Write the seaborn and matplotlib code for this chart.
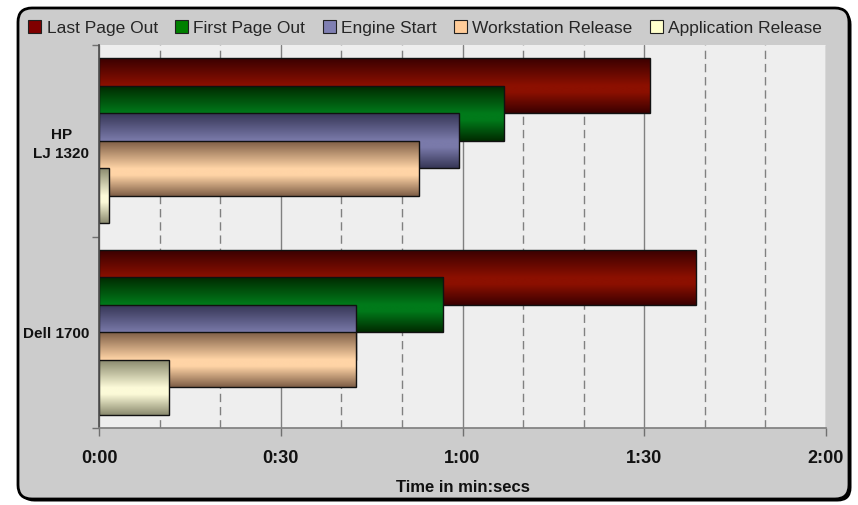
import numpy as np
import pandas as pd
import matplotlib
matplotlib.use("Agg")
import matplotlib.pyplot as plt
import seaborn as sns
from matplotlib.patches import FancyBboxPatch, Patch
from matplotlib.colors import LinearSegmentedColormap
from matplotlib.ticker import FixedLocator, MultipleLocator

# ---- data (seconds) ----
printers = ["HP\nLJ 1320", "Dell 1700"]
series = ["Last Page Out", "First Page Out", "Engine Start",
          "Workstation Release", "Application Release"]
last_page_out = [90.9, 98.6]
first_page_out = [66.8, 56.8]
engine_start = [59.4, 42.4]
workstation_release = [52.9, 42.4]
application_release = [1.6, 11.6]
x_ticks = [0, 30, 60, 90, 120]
x_tick_labels = ["0:00", "0:30", "1:00", "1:30", "2:00"]

values = [last_page_out, first_page_out, engine_start,
          workstation_release, application_release]

legend_colors = ["#800000", "#008000", "#7f7fb2", "#ffcc99", "#ffffcc"]
dark_colors = ["#3a0000", "#002a00", "#363656", "#7e5e46", "#8a8a6e"]
light_colors = ["#8c1000", "#007a1a", "#7a7aaa", "#ffd4a6", "#fcfad8"]

sns.set_theme(style="white")
plt.rcParams['font.family'] = ['Liberation Sans', 'DejaVu Sans']

fig = plt.figure(figsize=(8.58, 5.05), dpi=100)
fig.patch.set_facecolor('white')

shadow = FancyBboxPatch((0.205, 0.035), 8.31, 4.91,
                        boxstyle="round,pad=0,rounding_size=0.14",
                        transform=fig.dpi_scale_trans, facecolor='black',
                        edgecolor='black', lw=0, zorder=-3)
frame = FancyBboxPatch((0.18, 0.06), 8.31, 4.91,
                       boxstyle="round,pad=0,rounding_size=0.14",
                       transform=fig.dpi_scale_trans, facecolor='#cccccc',
                       edgecolor='black', lw=2, zorder=-2)
fig.patches.extend([shadow, frame])

ax = fig.add_axes([99 / 858, 1 - 428 / 505, 727 / 858, 383 / 505])
ax.set_facecolor('#eeeeee')

step = 0.1435
height = 2 * step
grad = np.linspace(0, 1, 256).reshape(-1, 1)

for i, (name, vals) in enumerate(zip(series, values)):
    df = pd.DataFrame({"pos": [k + (i - 2) * step for k in range(len(printers))],
                       "secs": vals})
    before = len(ax.patches)
    sns.barplot(data=df, x="secs", y="pos", orient="y", native_scale=True,
                width=height, color=light_colors[i], edgecolor='#111111',
                linewidth=1, errorbar=None, ax=ax)
    cmap = LinearSegmentedColormap.from_list(
        f"g{i}", [(0, dark_colors[i]), (0.5, light_colors[i]),
                  (0.62, light_colors[i]), (1, dark_colors[i])])
    z = 2 + i * 0.1
    for p in ax.patches[before:]:
        x0, y0 = p.get_x(), p.get_y()
        w, h = p.get_width(), p.get_height()
        im = ax.imshow(grad, cmap=cmap, aspect='auto', origin='upper',
                       extent=[x0, x0 + w, y0 + h, y0], zorder=z + 0.01,
                       interpolation='bilinear')
        im.set_clip_path(p)
        p.set_facecolor('none')
        p.set_zorder(z + 0.02)

ax.set_xlim(0, 120)
ax.set_ylim(1.5, -0.5)
ax.set_aspect('auto')

ax.xaxis.set_major_locator(FixedLocator(x_ticks))
ax.set_xticklabels(x_tick_labels, fontsize=13, fontweight='bold', color='#111111')
ax.xaxis.set_minor_locator(MultipleLocator(10))
ax.tick_params(axis='x', which='major', length=6, width=1, color='#707070',
               direction='out', pad=10, bottom=True)
ax.tick_params(axis='x', which='minor', length=0)

ax.set_yticks([0, 1])
ax.set_yticklabels(printers, fontsize=11, fontweight='bold', color='#111111',
                   multialignment='center', linespacing=1.4)
ax.set_yticks([-0.5, 0.5, 1.5], minor=True)
ax.tick_params(axis='y', which='major', length=0, pad=7, left=True)
ax.tick_params(axis='y', which='minor', length=5, width=1, color='#707070',
               direction='out', left=True)

ax.set_axisbelow(True)
ax.grid(axis='x', which='major', color='#808080', lw=1, ls='-')
ax.grid(axis='x', which='minor', color='#808080', lw=1, ls=(0, (6, 3.5)))
ax.grid(axis='y', which='both', visible=False)

for s in ['top', 'right']:
    ax.spines[s].set_visible(False)
ax.spines['left'].set_color('#505050')
ax.spines['bottom'].set_color('#808080')

ax.set_ylabel('')
ax.set_xlabel('Time in min:secs', fontsize=12, fontweight='bold',
              color='#111111', labelpad=9)

handles = [Patch(facecolor=c, edgecolor='#202020', lw=0.8) for c in legend_colors]
fig.legend(handles, series, loc='center', bbox_to_anchor=(425 / 858, 1 - 28 / 505),
           ncol=5, frameon=False, fontsize=12.5, handlelength=0.75,
           handleheight=0.75, handletextpad=0.3, columnspacing=1.0)

fig.savefig('out.png', dpi=100, facecolor='white')
